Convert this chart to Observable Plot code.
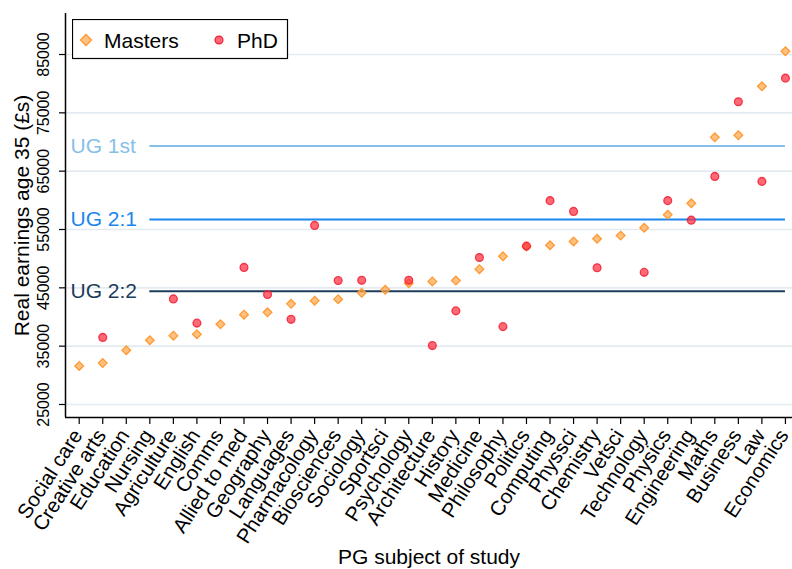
<!DOCTYPE html>
<html><head><meta charset="utf-8">
<script src="https://cdn.jsdelivr.net/npm/d3@7"></script>
<script src="https://cdn.jsdelivr.net/npm/@observablehq/plot@0.6"></script>
<style>
body{margin:0;background:#fff;font-family:"Liberation Sans",Arial,sans-serif}
#wrap{position:relative;width:792px;height:569px}
#legend{position:absolute;left:72px;top:19px}
</style>
</head><body><div id="wrap"></div>
<script>
const subjects = ["Social care","Creative arts","Education","Nursing","Agriculture","English","Comms","Allied to med","Geography","Languages","Pharmacology","Biosciences","Sociology","Sportsci","Psychology","Architecture","History","Medicine","Philosophy","Politics","Computing","Physsci","Chemistry","Vetsci","Technology","Physics","Engineering","Maths","Business","Law","Economics"];
const masters = [31600,32100,34300,36000,36800,37050,38750,40400,40800,42250,42800,43050,44150,44650,45800,46100,46250,48200,50400,52100,52300,52950,53400,53950,55300,57550,59500,70800,71150,79550,85550];
const phd = [null,36500,null,null,43100,38950,null,48500,43850,39600,55700,46250,46300,null,46300,35100,41050,50200,38350,52150,59950,58100,48450,null,47650,59950,56600,64100,76900,63250,80950];
const ugLabels = ["UG 1st","UG 2:1","UG 2:2"];
const ugValues = [69300,56700,44400];
const ugColors = ["#86bfe8","#1a86ee","#1c3c5c"];
const ugFrom = "Nursing", ugTo = "Economics";
const yTicks = [25000,35000,45000,55000,65000,75000,85000];

const idx = s => subjects.indexOf(s);
const mData = subjects.map((s,i)=>({i, v: masters[i]}));
const pData = subjects.map((s,i)=>({i, v: phd[i]})).filter(d=>d.v!=null);
const ugData = ugLabels.map((l,k)=>({l, v: ugValues[k], c: ugColors[k]}));
const xDom = [-0.582, 30.3], yDom = [22770, 92030];
const font = "Liberation Sans, Arial, sans-serif";

const chart = Plot.plot({
  width: 792, height: 569,
  marginLeft: 65, marginRight: 0, marginTop: 13, marginBottom: 152,
  style: {fontFamily: font, background: "#fff", color: "#000", overflow: "visible"},
  x: {type: "linear", domain: xDom, axis: null, label: null},
  y: {type: "linear", domain: yDom, axis: null, label: null},
  marks: [
    Plot.gridY(yTicks, {stroke: "#e4ebf0", strokeOpacity: 1, strokeWidth: 1.6}),
    Plot.axisY(yTicks, {tickSize: 6, tickFormat: () => "", label: null, stroke: "#000", strokeWidth: 1.2}),
    Plot.text(yTicks, {y: d=>d, text: d=>String(d), frameAnchor: "left", dx: -22, rotate: -90, fontSize: 16, textAnchor: "middle", lineAnchor: "middle", fill: "#000"}),
    Plot.ruleY(ugData, {y: "v", x1: idx(ugFrom), x2: idx(ugTo), stroke: "c", strokeWidth: 2}),
    Plot.text(ugData, {y: "v", text: "l", fill: "c", frameAnchor: "left", dx: 5, textAnchor: "start", lineAnchor: "middle", fontSize: 21}),
    Plot.dot(mData, {x: "i", y: "v", symbol: "diamond2", r: 3.9, fill: "#ffa54a", fillOpacity: 0.7, stroke: "#ff9a33", strokeWidth: 1.3}),
    Plot.dot(pData, {x: "i", y: "v", symbol: "circle", r: 3.9, fill: "#ff2a3c", fillOpacity: 0.7, stroke: "#f01e32", strokeOpacity: 0.85, strokeWidth: 1.3}),
    Plot.axisX(d3.range(subjects.length), {tickSize: 7, tickFormat: () => "", label: null, stroke: "#000", strokeWidth: 1.2}),
    Plot.text(subjects, {x: (d,i)=>i, text: d=>d, frameAnchor: "bottom", dx: -1.5, dy: 14, rotate: -57, textAnchor: "end", lineAnchor: "middle", fontSize: 20.5, fill: "#000"}),
    Plot.ruleX([xDom[0]], {stroke: "#000", strokeWidth: 1.5}),
    Plot.ruleY([yDom[0]], {stroke: "#000", strokeWidth: 1.5}),
    Plot.text(["Real earnings age 35 (£s)"], {text: d=>d, frameAnchor: "left", dx: -43, rotate: -90, fontSize: 21, textAnchor: "middle", lineAnchor: "middle", fill: "#000"}),
    Plot.text(["PG subject of study"], {text: d=>d, frameAnchor: "bottom", dy: 140, fontSize: 21, textAnchor: "middle", lineAnchor: "middle", fill: "#000"})
  ]
});
const wrap = document.getElementById("wrap");
wrap.appendChild(chart);
const leg = document.createElement("div");
leg.id = "legend";
leg.innerHTML = `<svg width="218" height="41" xmlns="http://www.w3.org/2000/svg" style="font-family:${font}">
<rect x="0.5" y="0.5" width="215" height="39" fill="#fff" stroke="#000" stroke-width="1.2"/>
<path d="M14,15.5 L19.5,21 L14,26.5 L8.5,21 Z" fill="#ffa54a" fill-opacity="0.7" stroke="#ff9a33" stroke-width="1.3"/>
<text x="32" y="28.5" font-size="21" fill="#000">Masters</text>
<circle cx="147" cy="21" r="3.9" fill="#ff2a3c" fill-opacity="0.7" stroke="#f01e32" stroke-width="1.3"/>
<text x="165" y="28.5" font-size="21" fill="#000">PhD</text>
</svg>`;
wrap.appendChild(leg);
</script>
</body></html>
